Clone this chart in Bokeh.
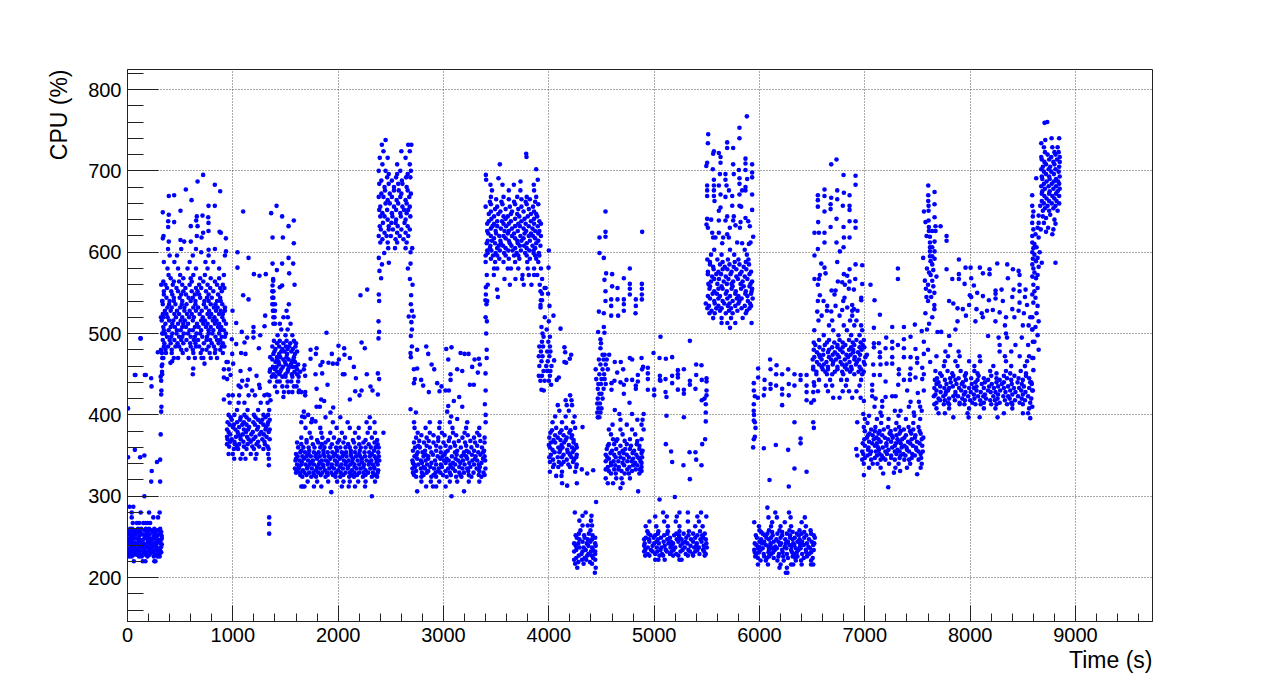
from bokeh.plotting import figure
from bokeh.models import FixedTicker, Range1d, Title
from bokeh.embed import file_html
from bokeh.resources import INLINE

A_y=[220,226,231,236,241,246,251,256,260,267,274,280,287]
A_x=[[60,145,170,255,265],[15,40,110,135,190,250,285,305],[5,30,75,100,155,180,235,295,320],[20,70,95,150,200,225,285,310],[5,50,80,130,160,215,245,275,325],[10,35,115,140,200,230,290,315],[30,55,110,165,195,250,280,325],[15,65,95,125,185,240,265,320],[25,45,100,130,175,205,255,310],[50,90,110,150,170,190,215],[40,245,290],[40,125,205,305],[20,55]]
A2_y=[228,233,238,243,248,253,258]
A2_x=[[25,60,90,125,170,210,265,300],[10,45,85,120,165,210,255,280,310],[35,60,110,135,180,215,250,270,320],[15,40,65,100,145,190,225,265,305],[20,55,80,95,160,185,220,260,275,325],[5,40,75,125,150,180,210,265,300],[35,55,80,110,165,200,225,285,300]]
A_pts=[(160,300),(225,318),(310,318),(230,331),(280,342),(310,345),(5,348),(120,348),(160,350),(70,357),(315,376),(5,408),(320,404),(322,410),(320,425),(322,430),(225,445),(315,447),(325,460),(75,449),(165,449),(125,494),(330,470),(318,480),(335,500),(318,520),(330,540),(320,560)]

B_y=[470,476,484,492,500,508,516,524,532,540,548,556,564,572,580,588,596,604]
B_x=[[340,440,480,580,640,720,790,850],[365,420,525,625,695,780,830,905],[345,385,455,490,600,650,680,770,820,895,920],[335,400,445,510,560,630,670,750,785,850,880],[330,355,425,465,535,575,655,690,770,805,870,935],[340,410,450,520,555,640,675,745,790,860,890],[325,395,435,505,545,620,700,735,810,845,915],[335,370,445,490,565,610,685,760,795,870,905],[380,420,500,540,625,670,745,820,855,925],[330,400,440,520,600,645,730,770,850,885],[345,425,510,555,640,680,770,860],[375,465,550,650,700,785,880,920],[340,440,490,610,720,830],[390,500,625,735,915],[380,480,570,650,760,870],[345,445,590,740,815],[400,470,620,770,925],[385,510,650,830]]
B2_y=[480,488,496,504,512,520,528,536,544,552,560,568]
B2_x=[[360,420,510,560,620,710,750,835,880],[350,410,475,530,595,645,725,800,865,905],[375,415,490,520,600,640,710,755,835,895,925],[345,390,470,505,590,620,700,770,815,880,915],[360,425,480,530,575,660,720,760,830,870,935],[340,380,460,520,585,630,715,780,825,900],[355,410,470,540,590,650,705,775,840,885,925],[335,395,455,515,560,645,725,790,835,900],[370,440,495,580,620,690,755,800,880],[345,415,480,530,610,665,745,815,895],[360,430,520,590,680,760,850,905],[410,530,600,690,790,870]]
B_pts=[(718,695),(665,687),(829,683),(880,675),(554,677),(443,670),(392,669),(608,664),(769,657),(829,657),(335,649),(503,651),(392,646),(658,644),(712,645),(766,643),(386,638),(443,637),(652,639),(769,636),(386,631),(601,632),(665,632),(718,624),(769,626),(874,625),(886,624),(342,620),(503,615),(538,613),(601,613),(658,620),(703,618),(934,617),(392,613),(335,617),(700,600),(770,603),(935,601),(330,462),(424,466),(408,464),(703,470),(731,463),(952,465),(624,457),(620,450),(329,450),(328,453),(320,442),(228,435),(70,449),(174,449),(123,494),(288,477),(326,476)]

C_y=[338,346,352,358,364,370,376,382,388,394,400,406,415,424]
C_x=[[1342],[1013,1073,1120,1215,1342],[960,1000,1090,1170,1225,1335],[1010,1050,1130,1200,1290,1340],[945,1020,1060,1140,1225,1305],[950,990,1075,1150,1195,1280,1350],[975,1055,1095,1175,1255,1295],[945,1025,1105,1145,1230,1310,1350],[970,1010,1090,1130,1210,1290,1330],[990,1070,1155,1240,1280,1350],[960,1015,1110,1200,1290,1335],[1040,1140,1240,1345],[970,1055,1110,1265,1330],[960,1000,1060,1150,1210,1300,1345]]
C2_y=[361,367,373,379,385,391,397]
C2_x=[[965,1040,1105,1185,1250,1330],[975,1015,1100,1170,1240,1300],[945,1030,1070,1135,1215,1320],[960,1045,1125,1190,1270,1340],[1000,1060,1155,1240,1315],[950,1040,1105,1195,1265,1335],[980,1075,1130,1215,1310]]
C_pts=[(1345,274),(1345,266),(1345,254),(1073,454),(1142,443),(1225,448),(1161,456),(1073,434),(1055,436),(1130,436),(1250,437),(1256,433),(1184,430),(1326,425),(1358,418),(915,419),(915,456),(962,456),(915,446),(946,444),(940,465),(1003,463),(994,475),(1079,476),(1120,475),(1089,442),(978,449),(1098,650),(1044,600),(1149,593),(1044,581),(1200,573),(1253,571),(1313,573),(1098,547),(1149,542),(997,528),(1307,522),(1032,513),(1301,509),(1196,508),(1085,502),(1196,502),(1260,498),(1136,495),(1032,487),(1111,489),(1196,495),(1247,482),(990,493)]

D_y=[422,428,435,441,447,453,459,465,471,478,484,491,498,505,512,520,528,536,544,552]
D_x=[[1480],[1420,1485,1530,1565,1625,1650],[1400,1470,1515,1580,1605],[1350,1420,1445,1520,1555,1620],[1370,1405,1470,1500,1565,1625],[1350,1420,1450,1520,1585,1640],[1380,1415,1475,1535,1570,1600],[1405,1435,1495,1560,1590],[1355,1420,1450,1510,1580],[1395,1460,1490,1555,1610],[1375,1440,1505,1535,1595],[1390,1445,1510,1580],[1425,1500,1565],[1460,1520],[1385,1400,1446,1548],[1385,1395,1481,1522],[1380,1385,1510,1400],[1375,1385,1532,1400],[1375,1380,1385],[1375,1380,1385]]
D2_y=[450,456,462,468,475,481,488]
D2_x=[[1385,1440,1500,1560,1610],[1355,1400,1460,1525,1610],[1440,1505,1550,1620],[1375,1420,1480,1530,1575],[1385,1440,1515,1590],[1405,1470,1520,1570],[1420,1480,1545,1600]]
D_pts=[(1415,657),(1364,648),(1468,644),(1579,639),(1529,632),(1377,618),(1475,618),(1579,611),(1377,586),(1468,586),(1529,593),(1573,586),(1418,578),(1535,574),(1383,567),(1383,565),(1586,560),(1468,559),(1446,557),(1377,559)]

E_y=[300,305,312,318,324,329,334,339,344,349,354,360,366,372,378,384,391,397]
E_x=[[2320],[1935],[1650,1665,1680,1770,1840,2035,2100,2160,2255],[1710,1800,1905,1990,2050,2110,2190,2260,2350],[1660,1745,1790,1880,1975,2020,2105,2150,2235,2320,2370],[1600,1680,1725,1810,1850,1935,2025,2070,2155,2200,2285,2375],[1590,1625,1705,1750,1830,1915,1960,2045,2090,2175,2215,2305,2345],[1650,1690,1770,1855,1900,1985,2030,2115,2200,2245,2330,2375],[1595,1635,1715,1760,1845,1885,1970,2055,2100,2185,2270,2315,2390],[1615,1700,1785,1825,1910,1995,2040,2125,2210,2255,2345,2385],[1640,1685,1770,1815,1900,1945,2035,2075,2160,2250,2295,2380],[1620,1720,1775,1870,1980,2020,2110,2165,2260,2355],[1610,1700,1810,1880,1995,2050,2150,2240,2345],[1650,1745,1850,1960,2065,2195,2320],[1730,1840,1925,2035,2160,2280,2350,2430],[1690,1830,1985,2110,2195,2300],[1650,1745,1950,2090,2270,2345],[1680,1880,2020,2300]]
E2_y=[326,329,332,336,339,342,346,349,352,356,360,364,369]
E2_x=[[1640,1700,1770,1835,1900,1950,2050,2130,2180,2260,2350],[1640,1765,1895,1980,2110,2240,2330],[1610,1665,1790,1875,2000,2130,2260,2380],[1630,1710,1800,1860,1940,2015,2095,2155,2240,2340],[1610,1730,1815,1940,2070,2155,2290],[1655,1740,1825,1905,1990,2075,2135,2225,2300,2365],[1600,1675,1800,1925,2015,2140,2225,2360],[1660,1740,1870,1955,2080,2170,2300],[1600,1720,1790,1860,1970,2050,2120,2200,2320],[1650,1725,1860,1990,2120,2205,2340],[1670,1830,1925,2070,2215,2310,2385],[1650,1760,1845,1940,2095,2200,2290,2375],[1700,1800,1905,2010,2140,2260,2370]]
E_pts=[(1889,501),(2003,485),(2057,482),(1795,482),(1738,480),(1788,475),(1940,475),(2060,474),(2111,470),(2222,489),(2253,482),(2276,554),(2212,547),(1738,469),(1851,465),(1908,464),(1950,463),(1991,463),(2007,468),(2149,459),(1832,461),(1680,461),(1674,456),(1687,448),(1785,450),(1848,451),(2045,450),(2060,450),(2168,445),(2272,450),(2377,451),(2389,444),(1899,437),(1795,432),(2307,435),(2326,430),(2162,429),(2222,430),(2203,424),(2377,425),(1687,428),(1687,424),(1630,430),(2111,419),(1839,419),(1867,417),(1795,410),(1826,410),(1953,409),(1927,403),(1674,404),(1715,400),(1658,398),(1753,395),(1785,392),(2386,593),(2416,585),(2392,577),(2408,568),(2386,548),(2389,540),(2383,515),(2389,502),(2383,494),(2481,587),(2437,599)]

F_y=[605,612,620,628,636,644,652,660,668,676,684,692,700,708,716,724,732,738]
F_x=[[2475,2540,2640],[2400,2470,2560,2650],[2385,2460,2500,2585,2665],[2405,2480,2520,2600,2680],[2425,2505,2545,2630],[2400,2440,2515,2595,2685],[2390,2465,2550,2625,2665],[2450,2490,2570,2650],[2385,2430,2510,2590,2675],[2445,2530,2575,2660],[2390,2480,2570,2610],[2465,2550,2645,2685],[2385,2450,2590,2690],[2420,2560,2680],[2395,2470,2640],[2430,2600,2680],[2415,2665,2695],[2450]]
F2_y=[616,624,632,640,648,656,664,672,680,688,696]
F2_x=[[2420,2545,2620],[2440,2560,2640],[2395,2480,2565,2660],[2470,2550,2640],[2420,2510,2590,2650],[2400,2530,2610,2680],[2470,2555,2640],[2410,2490,2600,2690],[2440,2530,2650],[2410,2510,2605],[2480,2560,2660]]
F_pts=[(2703,605),(2687,600),(2687,586),(2662,580),(2681,567),(2706,560),(2693,547),(2690,536),(2700,528),(2670,521),(2716,521),(2695,514),(2700,505),(2690,497),(2700,484),(2687,476),(2690,471),(2750,480),(2836,484),(2855,475),(2887,462),(2912,456),(2750,457),(2719,456),(2788,443),(2728,444),(2719,439),(2807,436),(2861,428),(2940,439),(2981,435),(2962,429),(3019,430),(3051,430),(2687,407),(2738,403)]

G_y=[300,306,312,318,324,329,334,339,344,349,354,360,366,372,378,384,391]
G_x=[[3076],[2750,3195],[2835,2900,2930,3020],[2790,2880,2960,3060,3130,3240,3340],[2740,2790,2885,2930,3030,3120,3170,3265,3360],[2710,2795,2840,2925,2970,3060,3150,3195,3285,3380],[2705,2785,2825,2910,2955,3045,3090,3180,3225,3315,3398],[2720,2760,2845,2930,2975,3065,3110,3200,3290,3335],[2705,2785,2830,2920,3005,3050,3140,3185,3275,3320,3395],[2725,2810,2855,2945,2990,3080,3170,3215,3305,3390],[2755,2800,2885,2975,3020,3110,3195,3240,3330,3375],[2730,2775,2870,2970,3065,3165,3265,3365],[2720,2815,2905,3000,3100,3205,3300,3390],[2740,2840,2950,3060,3180,3290,3390],[2755,2870,2985,3090,3200,3320],[2725,2830,2960,3085,3215,3340],[2720,2870,3060,3225,3400]]
G2_y=[326,331,336,341,346,351,356,362,368,375]
G2_x=[[2720,2810,2905,2995,3070,3160,3240,3335,3390],[2740,2855,2950,3020,3110,3235,3340],[2730,2810,2875,2985,3070,3150,3255,3345],[2710,2795,2885,3020,3090,3160,3245,3360],[2750,2855,2970,3030,3115,3225,3300,3375],[2745,2830,2900,3010,3125,3190,3270,3350],[2710,2825,2930,3040,3130,3220,3290,3385],[2760,2840,2930,3020,3110,3215,3320],[2770,2860,2950,3050,3145,3255,3350],[2790,2905,3010,3120,3230,3340]]
G_pts=[(3026,481),(3076,483),(3045,468),(3162,476),(3200,475),(3238,475),(3295,468),(3336,469),(3345,462),(3272,459),(3326,452),(3399,451),(3178,454),(3130,456),(3067,450),(3067,443),(3250,437),(3288,437),(3149,422),(3098,417),(3045,411),(3035,404),(3178,410),(3393,413),(3073,398),(3130,395),(2965,391),(3400,430),(3410,480),(3405,500),(3412,515),(3400,520),(3415,540),(3410,470),(3400,400),(3420,560)]

H_y=[572,580,588,596,602,608,614,620,626,632,638,644,650,656,662,668,676]
H_x=[[3411,3478,3750,3810,3860,3890],[3480,3510,3610,3640,3710,3800,3860,3925],[3400,3490,3570,3680,3795,3900],[3400,3470,3510,3590,3670,3710,3790,3870,3910],[3415,3455,3535,3615,3655,3735,3815,3855],[3445,3525,3565,3645,3725,3765,3845,3920],[3420,3460,3540,3620,3700,3740,3820,3900],[3450,3530,3570,3650,3730,3810,3850,3925],[3415,3495,3580,3620,3705,3785,3870,3910],[3465,3510,3595,3680,3725,3810,3895],[3430,3510,3555,3640,3740,3830,3910],[3480,3570,3610,3720,3800,3890],[3450,3540,3650,3760,3860],[3400,3510,3630,3740,3850],[3440,3550,3670,3780,3870],[3450,3570,3700,3790,3880],[3460,3620,3730,3860]]
H2_y=[592,599,605,611,617,623,629,635,641,647,653,659,665]
H2_x=[[3450,3530,3620,3720,3820,3880],[3420,3495,3575,3695,3775,3855,3905],[3440,3510,3590,3680,3790,3870],[3410,3490,3545,3630,3705,3790,3880],[3480,3590,3680,3760,3870],[3425,3500,3610,3670,3770,3830,3900],[3450,3545,3650,3760,3845],[3415,3480,3570,3620,3710,3780,3860,3925],[3455,3590,3680,3770,3860],[3430,3520,3640,3700,3830,3880],[3490,3590,3710,3810],[3450,3560,3680,3790,3900],[3500,3620,3740,3820]]
H_pts=[(3785,721),(3788,717),(3535,708),(3880,702),(3402,695),(3405,689),(3522,691),(3895,689),(3446,683),(3560,683),(3668,683),(3731,687),(3857,683),(3579,567),(3683,567),(3747,567),(3936,567),(3630,560),(3762,560),(3835,560),(3914,560),(3402,557),(3509,554),(3516,545),(3402,548),(3398,541),(3408,536),(4000,602),(3997,581),(3921,552),(3935,549),(3993,549),(3925,541),(3935,541),(3921,535),(3960,556),(3970,556),(4006,534),(3921,532),(3962,520),(4044,522),(4000,515),(4111,506),(3930,508),(3940,500),(3980,505)]

I_y=[442,448,454,460,466,472,478,484,490,496]
I_x=[[3920,3960,4000],[3905,3935,4010],[3950,3985,4015],[3910,3975,4025],[3930,3990],[3905,3940,4005],[3925,3985,4015],[3910,3945,4010],[3935,3995],[3950,4010]]
I_pts=[(3952,430),(3930,431),(4022,437),(4095,446),(4075,443),(4050,467),(4148,483),(4155,477),(4212,474),(4199,469),(4148,465),(4164,464)]

J_y=[325,330,336,342,348,354,360,366,372,378,384,391,398,405,412,418,424]
J_x=[[4070,4120],[4010,4125,4250],[4040,4090,4200,4260],[4010,4095,4140,4230],[4005,4085,4125,4215,4260],[4055,4100,4180,4225],[4010,4090,4130,4220,4265],[4020,4060,4145,4235],[4005,4085,4170,4215],[4015,4105,4195],[4070,4165,4250],[4035,4125,4230],[4060,4160,4245],[4100,4190],[4085,4170,4220],[4160,4215],[4202]]
J2_y=[339,345,351,357,363,369,375,381]
J2_x=[[4050,4120,4185,4265],[4040,4170,4240],[4020,4140,4200,4265],[4035,4110,4175,4240],[4000,4120,4190,4260],[4045,4110,4160,4235],[4060,4140,4220],[4030,4120,4205]]
J_pts=[(4126,316),(4174,313),(4266,316),(4313,333),(4364,328),(4421,332),(4320,385)]

K_y=[206,212,217,222,227,232,237,242,247,252,258,264,270,276,280]
K_x=[[4437],[4270,4445],[4250,4330,4410],[4240,4315,4355,4440],[4285,4365,4405],[4240,4320,4400,4440],[4290,4330,4410],[4240,4280,4360,4440],[4290,4370,4410],[4255,4335,4415],[4300,4395],[4320,4370,4410],[4290,4400],[4320,4405],[4247,4350]]
K2_y=[219,224,229,234,239,244,249,254]
K2_x=[[4280,4390],[4260,4340,4420],[4310,4375,4440],[4260,4350,4420],[4255,4375,4445],[4320,4395],[4265,4340,4440],[4285,4380]]
K_pts=[(4449,293)]

L_y=[306,310,316,322,328,333,338,343,348,353,358,364,370,376,382,388,394,401]
L_x=[[4848],[4680],[4560,4610,4700],[4540,4640,4690,4770],[4590,4635,4720,4760,4860],[4540,4620,4660,4745,4825,4865],[4590,4630,4715,4800,4840],[4540,4615,4660,4745,4785,4870],[4555,4635,4680,4760,4845,4885],[4585,4670,4710,4795,4880],[4550,4640,4725,4770,4860],[4570,4620,4740,4835],[4610,4650,4770,4880],[4590,4700,4820],[4570,4680,4790,4900],[4605,4740,4880],[4680,4840,4890],[4670,4790,4900]]
L3_y=[331,336,341,346,351,356,362,368]
L3_x=[[4570,4690,4790,4880],[4560,4665,4765,4880],[4590,4700,4820,4880],[4570,4710,4800,4860],[4540,4620,4740,4830],[4600,4700,4810,4890],[4560,4680,4780,4860],[4640,4720,4840]]
L2_y=[397,403,408,414,420,426,432,438,444,450,456,462,468,474]
L2_x=[[4465,4480],[4460,4490],[4470,4500],[4460,4485],[4465,4510],[4480,4500],[4465,4520],[4470,4495,4540],[4450,4500,4530],[4480,4525],[4445,4510,4560],[4490,4540],[4475,4520,4550],[4510,4530,4573]]
L_pts=[(4538,650),(4538,625),(4538,619),(4481,618),(4886,625),(4481,599),(4522,593),(4769,580),(4544,574),(4601,573),(4712,568),(4528,566),(4601,558),(4652,556),(4769,561),(4769,555),(4769,548),(4883,561),(4883,555),(4883,548),(4883,542),(4538,552),(4538,540),(4592,542),(4652,542),(4712,542),(4712,536),(4826,542),(4826,534),(4592,534),(4712,528),(4823,525),(4475,527),(4522,525),(4592,522),(4658,522),(4522,508),(4468,502),(4528,501),(4490,493),(4495,488),(4490,482),(4626,465),(4683,465),(4706,456),(4649,452),(4623,442),(4595,439),(4680,440),(4737,443),(4791,443),(4845,441),(4826,436),(4712,437),(4595,431),(4712,426),(4769,470),(4791,468),(4880,470),(4895,459),(4885,456),(4940,458),(4940,451),(4940,444),(4845,449),(4826,432),(4940,431),(4994,476),(5000,431),(5000,424),(4766,415),(4626,406),(5060,496),(5339,491),(5051,470),(5111,469),(5171,471),(5282,456),(5399,462),(5449,461),(5225,455),(5225,450),(5171,448),(5054,448),(5054,443),(5108,444),(5225,446),(5171,439),(5339,442),(5339,437),(5399,449),(5452,443),(5497,445),(5497,441),(5060,442),(5225,431),(5282,431),(5392,432),(5282,426),(5108,428),(5117,422),(5497,430),(5497,424),(5478,420),(5452,418),(5490,413),(5490,403),(5490,392),(5117,399),(5282,397),(5484,370),(5456,364),(5111,364),(5161,355),(5336,354),(5392,354),(5171,342),(5278,338),(5399,345),(5449,338),(5339,321),(5051,296),(5196,299)]

M_y=[222,227,232,237,242,247,252,257,263,269,275,280]
M_x=[[5010,5040,5100,5240,5260],[4915,4955,5050,5085,5180,5230,5320,5370,5480],[4905,4985,5030,5120,5165,5250,5340,5390,5475],[4940,5025,5070,5155,5200,5290,5380,5425,5500],[4910,5000,5045,5135,5180,5270,5315,5405,5495],[4905,4950,5035,5125,5215,5260,5350,5440,5490],[4965,5010,5095,5190,5235,5325,5410,5455],[4935,5040,5130,5240,5330,5435],[4920,5020,5130,5240,5390,5460],[4955,5095,5205,5320,5425],[5010,5120,5215,5410,5495],[5085,5240,5320,5445]]
M2_y=[229,234,239,244,249,254]
M2_x=[[4940,5010,5075,5150,5210,5300,5365,5430,5490],[4915,4970,5060,5110,5185,5270,5325,5410,5465],[4905,4985,5100,5165,5250,5345,5400,5470],[4955,5025,5090,5160,5230,5295,5370,5450],[4920,4995,5065,5150,5240,5305,5390,5465],[4945,5035,5125,5210,5280,5370,5480]]
N_y=[507,513,519,525,531,537,543,549,555,561,567,573,579,585,591,597,603]
N_x=[[5720],[5640,5695,5770,5925],[5560,5640,5730,5840],[5525,5575,5680,5745,5870],[5505,5590,5640,5730,5830,5905],[5490,5575,5665,5715,5800,5910],[5530,5610,5695,5785,5830,5935],[5555,5595,5680,5770,5865,5920],[5525,5610,5650,5735,5825,5930],[5515,5600,5690,5735,5820,5915],[5570,5615,5705,5795,5885],[5510,5590,5635,5725,5815,5905],[5565,5650,5695,5780,5875],[5530,5625,5715,5810,5900],[5505,5600,5700,5800,5895],[5540,5640,5760,5880],[5570,5720,5860]]
N2_y=[528,534,540,546,552,558,564,570,576,582,588]
N2_x=[[5545,5625,5710,5790,5880],[5520,5610,5700,5770,5860,5920],[5570,5650,5745,5810,5890],[5510,5625,5720,5800,5885],[5570,5690,5775,5870,5925],[5530,5640,5745,5850,5905],[5540,5660,5750,5840,5930],[5550,5680,5780,5860],[5510,5610,5735,5830,5920],[5560,5670,5755,5850],[5530,5650,5765,5870]]
N_pts=[(5880,767),(5810,753),(5810,740),(5513,745),(5510,734),(5693,735),(5693,728),(5750,728),(5567,724),(5560,721),(5614,722),(5630,717),(5630,710),(5503,710),(5495,706),(5750,708),(5867,715),(5867,709),(5930,708),(5804,701),(5867,701),(5557,702),(5624,696),(5677,696),(5756,696),(5930,698),(5930,692),(5883,690),(5677,689),(5567,689),(5810,691),(5810,684),(5867,680),(5503,682),(5567,682),(5614,682),(5687,682),(5710,676),(5503,676),(5567,676),(5567,669),(5503,669),(5630,671),(5677,668),(5741,669),(5810,671),(5835,676),(5867,676),(5930,671),(5573,663),(5630,655),(5614,651),(5741,657),(5810,657),(5826,656),(5930,652),(5503,641),(5541,640),(5614,639),(5677,639),(5693,644),(5756,644),(5750,639),(5820,637),(5867,642),(5893,638),(5497,634),(5510,630),(5908,632),(5718,630),(5772,633),(5814,630),(5551,624),(5614,624),(5693,622),(5582,618),(5560,618),(5655,618),(5709,618),(5788,612),(5835,611),(5646,611),(5940,619),(5899,610),(5915,612)]

O_y=[206,212,216,221,226,231,236,240,244,249,254,258,263,268,274,280,286]
O_x=[[6250,6265],[6190,6260],[5985,6080,6200,6300,6320,6400,6490,6510],[6010,6060,6170,6230,6345,6395,6490],[5960,6045,6090,6180,6225,6315,6360,6450],[5955,5995,6085,6130,6220,6310,6355,6445,6490],[5985,6030,6120,6165,6255,6345,6390,6480],[5970,6060,6105,6195,6285,6330,6420,6510],[6000,6045,6135,6180,6270,6360,6405,6495],[5975,6065,6110,6200,6290,6335,6425,6525],[6030,6075,6170,6260,6355,6400,6490],[6000,6090,6190,6285,6380,6485],[5995,6110,6200,6300,6440],[5950,6120,6240,6400],[6085,6165,6295,6430],[6150,6280],[6075]]
O2_y=[224,229,234,238,242,247,252,256]
O2_x=[[5985,6070,6135,6270,6340,6420,6505],[5970,6040,6110,6185,6260,6330,6405,6470],[5950,6010,6090,6145,6215,6300,6370,6440,6515],[5995,6085,6150,6240,6305,6385,6465],[5955,6025,6105,6205,6250,6320,6385,6450,6520],[6015,6090,6160,6245,6315,6380,6470],[5965,6050,6125,6215,6290,6375,6445,6515],[6015,6120,6215,6315,6425]]
O_pts=[(6101,468),(6162,461),(5987,457),(6272,456),(6105,456),(5987,446),(6158,450),(6215,450),(6332,450),(6390,449),(6447,449),(6390,443),(6048,443),(6105,438),(6048,432),(6158,436),(6215,432),(6278,438),(6332,436),(6447,436),(6516,440),(6510,428),(6447,428),(6105,432),(6215,425),(6278,424),(6041,424),(5984,421),(5946,439),(5946,430),(5956,423),(5946,413),(5945,405),(5948,400),(5946,393),(6215,412),(6332,391),(6510,391),(6447,418),(6516,418),(6491,415),(5956,391),(5962,384),(6516,384),(6390,371),(6390,365),(5956,373),(5946,370),(5940,360),(6041,359),(6155,363),(6272,357),(6332,334),(6447,330),(6095,320),(6278,312)]

P_y=[421,429,436,443,450,456,462,468,474,480,486,492,498,504,510,516,522,528]
P_x=[[6700,6760,6880,6960],[6555,6650,6790,6850,6920],[6520,6630,6690,6820,6950],[6565,6670,6775,6830,6965],[6540,6640,6690,6795,6900,6975],[6510,6600,6650,6740,6830,6875,6965],[6565,6610,6695,6785,6825,6915,7000],[6505,6590,6680,6725,6810,6900,6945],[6565,6605,6695,6740,6825,6865,6955,7020],[6515,6605,6660,6765,6850,6890,6970],[6530,6620,6740,6815,6900,6980],[6565,6660,6760,6850,6920,6990],[6610,6750,6870,6950],[6520,6700,6830,6975],[6660,6800,6900,6965],[6560,6690,6860,6920],[6590,6760,6880],[6640,6880,6930]]
P2_y=[453,459,465,471,477,483,489]
P2_x=[[6540,6625,6715,6785,6860,6940,6990],[6510,6590,6650,6740,6810,6870,6950],[6545,6635,6700,6770,6855,6925,6990],[6520,6575,6660,6755,6840,6905,7005],[6545,6650,6715,6790,6890,6935],[6570,6690,6740,6790,6870,6950,6995],[6515,6640,6710,6790,6885,6960]]
P_pts=[(6731,714),(6681,708),(6798,695),(6912,694),(6912,683),(6617,677),(6738,676),(6801,673),(6855,670),(6554,670),(6617,669),(6681,667),(6738,665),(6554,664),(6675,659),(6554,656),(6675,653),(6791,657),(6855,657),(6855,652),(6617,650),(6731,641),(6557,637),(6855,638),(6912,638),(6912,630),(6798,631),(6675,631),(6617,624),(6522,624),(6564,624),(6801,618),(6855,618),(6617,612),(6731,612),(6798,606),(6554,604),(6763,601),(6522,596),(6738,588),(6586,586),(6912,585),(6975,584),(6617,581),(6627,574),(6855,579),(6801,573),(6833,571),(6573,572),(6522,567),(6564,567),(6909,567),(6744,564),(6785,563),(6855,564),(6811,560),(6554,560),(6975,561),(6848,555),(6896,554),(6684,553),(6722,553),(6712,548),(6573,547),(6807,544),(6966,544),(6795,540),(6966,541),(6554,540),(6608,540),(6722,534),(6643,534),(6880,535),(6896,530),(6833,532),(6785,529),(6548,527),(6681,527)]

Q_y=[335,340,345,350,355,360,365,370,375,380,385,390,395,399]
Q_x=[[7040,7150,7290,7400,7530],[6990,7075,7120,7230,7320,7430,7540],[6975,7060,7150,7195,7285,7375,7420,7510],[7025,7115,7160,7250,7340,7385,7475],[6975,7060,7105,7195,7285,7330,7420,7510,7550],[7035,7125,7170,7260,7350,7395,7485],[6980,7070,7115,7205,7295,7340,7430,7520],[6995,7085,7130,7220,7310,7355,7445,7540],[7030,7075,7165,7255,7300,7390,7480],[7000,7095,7140,7245,7340,7430,7520],[6990,7100,7220,7325,7415,7510],[7025,7155,7300,7460],[7000,7115,7225,7390,7525],[7040,7160,7320,7470]]
Q2_y=[347,352,357,362,367,372,377,382]
Q2_x=[[7000,7095,7175,7250,7330,7445,7535],[6985,7050,7140,7210,7300,7365,7450,7530],[7030,7135,7225,7310,7400,7490],[7000,7095,7205,7285,7375,7455,7545],[7040,7150,7250,7325,7410,7495],[7020,7110,7190,7265,7375,7475,7555],[7045,7130,7235,7330,7440,7530],[7060,7180,7290,7370,7460]]
Q_pts=[(7174,328),(7222,311),(6991,326),(7276,329),(7335,331),(7497,327),(6928,391),(6918,358),(6928,350),(7054,560),(7314,580),(7314,567),(7092,541),(7143,523),(7086,507),(7260,508),(7371,508),(7475,511),(7540,503),(7434,496),(7371,493),(7203,495),(7260,490),(7314,486),(7086,488),(7133,488),(7197,482),(7260,482),(7371,482),(7481,481),(7086,483),(7143,477),(7143,471),(7260,471),(7371,471),(7434,471),(7497,470),(7560,475),(7079,462),(7149,462),(7206,463),(7260,463),(7323,456),(7434,457),(7497,464),(7545,458),(7086,449),(7143,449),(7323,450),(7428,450),(7481,446),(7545,444),(7197,441),(7317,437),(7371,443),(7428,443),(7070,437),(7070,430),(7402,430),(7503,427),(7560,430),(7070,423),(7102,420),(7165,417),(7260,423),(7292,423),(7197,422),(7513,416),(7434,416),(7418,410),(6991,417),(6985,401),(7092,410),(7165,410),(7149,403),(7339,405),(7285,405),(7465,403),(7525,410),(7540,405)]

R_y=[397,402,408,413,418,423,428,433,438,443,448,454,460,466,472,478,486,495]
R_x=[[7840,7985,8090,8260],[7700,7760,7975,8320,8500,8550],[7680,7800,7990,8130,8240,8400,8560],[7660,7750,7800,7900,7945,8050,8100,8200,8250,8350,8400,8500],[7715,7760,7855,7950,8000,8095,8190,8235,8330,8425,8520],[7655,7745,7840,7885,7980,8075,8125,8220,8315,8360,8455,8550],[7720,7770,7860,7955,8005,8100,8195,8240,8335,8430,8525],[7660,7755,7800,7895,7990,8035,8130,8225,8320,8415,8465,8560],[7680,7775,7870,7920,8015,8110,8205,8300,8395,8490,8585],[7665,7760,7860,7960,8070,8170,8280,8390,8500],[7730,7840,7950,8080,8200,8320,8420,8530],[7670,7785,7910,8040,8190,8340,8480],[7750,7880,8040,8220,8390,8520],[7760,7860,7990,8095,8340,8540],[7680,7790,7900,8090,8330,8470,8560],[7765,7890,8280,8390],[7810,8280,8430,8550],[8270,8350,8490]]
R2_y=[415,420,425,430,435,440,445,451]
R2_x=[[7680,7790,7900,8020,8130,8280,8390,8470,8570],[7700,7800,7925,8040,8150,8260,8375,8490,8580],[7670,7765,7860,7940,8035,8140,8265,8400,8500],[7680,7790,7915,8060,8170,8285,8380,8485,8590],[7715,7835,7945,8060,8180,8265,8360,8510],[7700,7815,7930,8050,8140,8250,8320,8450,8570],[7685,7810,7890,8010,8130,8250,8350,8460,8560],[7715,7830,7960,8070,8250,8380,8530]]
R_pts=[(7602,682),(7662,674),(7602,670),(7602,663),(7662,659),(7605,657),(7561,650),(7605,651),(7662,643),(7576,637),(7605,639),(7608,631),(7671,632),(7719,632),(7608,626),(7640,626),(7671,626),(7586,620),(7618,619),(7776,620),(7776,614),(7662,613),(7618,612),(7618,606),(7640,606),(7618,601),(7662,601),(7618,595),(7640,595),(7662,592),(7624,589),(7640,585),(7554,593),(7893,591),(7776,579),(7956,581),(8004,581),(8092,581),(8184,579),(8257,586),(8352,585),(8406,579),(8460,577),(8469,572),(8121,574),(8184,573),(7893,573),(7830,567),(7893,567),(8010,568),(8358,568),(7947,561),(8035,559),(8469,560),(8412,554),(8298,554),(8241,553),(8241,549),(8469,552),(8526,554),(8067,550),(7997,547),(8010,545),(8121,546),(8178,541),(8241,543),(8310,540),(8400,545),(8469,538),(8520,545),(8540,535),(7800,540),(7840,537),(7880,531),(7930,530),(7990,535),(8060,530),(8110,525),(8160,528),(8215,529),(8280,526),(8340,520),(8400,530),(8460,528),(8510,525),(8570,520),(7880,515),(7960,522),(8050,515),(8120,520),(8240,515),(8330,510),(8420,520),(8500,510),(8555,510),(8590,505),(7600,560),(7640,565),(7680,570),(7610,575),(7585,545),(7660,550),(7570,565),(7630,545),(7600,540),(7660,535),(7575,525),(7640,520),(7610,512),(7660,530),(7590,505),(7560,490),(7600,480),(7560,450),(7620,465),(7690,502),(7725,502),(7800,497),(7860,505),(8170,497),(8340,500),(7580,555),(7615,552),(7650,558),(7590,580),(7625,572),(7650,578)]

S_y=[651,657,663,669,675,681,687,693,699,705,711,717,723,729]
S_x=[[8690,8750,8830],[8665,8735,8810],[8680,8750,8820],[8705,8780,8845],[8685,8755,8830],[8675,8745,8815],[8725,8795,8835],[8680,8750,8850],[8700,8770,8840],[8690,8760,8845],[8705,8790,8850],[8675,8770,8850],[8710,8800,8840],[8700,8780,8830]]
S2_y=[654,660,666,672,678,684,690,696,702,708,714,720]
S2_x=[[8710,8790],[8700,8775,8845],[8725,8800],[8680,8750,8815],[8710,8790,8850],[8700,8775,8845],[8685,8755,8815],[8720,8795],[8675,8745,8810],[8720,8800],[8680,8750,8825],[8735,8810]]
S_pts=[(8732,760),(8706,759),(8845,740),(8773,740),(8713,738),(8675,734),(8627,691),(8589,670),(8589,657),(8595,644),(8589,636),(8650,636),(8600,650),(8720,642),(8760,646),(8800,640),(8650,645),(8690,644),(8640,630),(8670,628),(8700,636),(8740,630),(8790,628),(8810,635),(8600,628),(8620,622),(8590,620),(8780,622),(8720,625),(8650,618),(8590,612),(8610,610),(8630,606),(8600,605),(8660,600),(8590,600),(8610,597),(8640,593),(8595,592),(8625,589),(8680,587),(8810,587),(8590,585),(8650,582),(8600,580),(8610,575),(8640,572),(8590,570),(8625,568),(8600,560),(8640,556),(8610,552),(8590,548),(8620,544),(8600,538),(8640,534),(8630,525),(8590,520),(8650,515),(8620,508),(8590,505),(8640,498),(8610,490),(8650,480),(8600,470)]

T_y=[396,410,430,440,455,470,490]
T_x=[[8570],[8590],[8595],[8580],[8600],[8590],[8595]]

x_ticks=[0,1000,2000,3000,4000,5000,6000,7000,8000,9000]
y_ticks=[200,300,400,500,600,700,800]
x_minor=list(range(0,9800,200))
y_minor=list(range(160,840,20))

def flatten(ys,xs):
    ox,oy=[],[]
    for yy,row in zip(ys,xs):
        for xx in row:
            ox.append(xx); oy.append(yy)
    return ox,oy

all_x,all_y=[],[]
for ys,xs in [(A_y,A_x),(A2_y,A2_x),(B_y,B_x),(B2_y,B2_x),(C_y,C_x),(C2_y,C2_x),(D_y,D_x),(D2_y,D2_x),(E_y,E_x),(E2_y,E2_x),(F_y,F_x),(F2_y,F2_x),(G_y,G_x),(G2_y,G2_x),(H_y,H_x),(H2_y,H2_x),(I_y,I_x),(J_y,J_x),(J2_y,J2_x),(K_y,K_x),(K2_y,K2_x),(L_y,L_x),(L2_y,L2_x),(L3_y,L3_x),(M_y,M_x),(M2_y,M2_x),(N_y,N_x),(N2_y,N2_x),(O_y,O_x),(O2_y,O2_x),(P_y,P_x),(P2_y,P2_x),(Q_y,Q_x),(Q2_y,Q2_x),(R_y,R_x),(R2_y,R2_x),(S_y,S_x),(S2_y,S2_x),(T_y,T_x)]:
    a,b=flatten(ys,xs); all_x+=a; all_y+=b
for pts in [A_pts,B_pts,C_pts,D_pts,E_pts,F_pts,G_pts,H_pts,I_pts,J_pts,K_pts,L_pts,N_pts,O_pts,P_pts,Q_pts,R_pts,S_pts]:
    all_x+=[q[0] for q in pts]; all_y+=[q[1] for q in pts]

p=figure(width=1272,height=683,output_backend="svg",toolbar_location=None,
         x_range=Range1d(0,9731),y_range=Range1d(146,824.6),
         min_border_left=127,min_border_right=120,min_border_top=69,min_border_bottom=62)
p.background_fill_color="white"
p.outline_line_color="#222222"
p.outline_line_width=1
p.outline_line_alpha=1
p.scatter(all_x,all_y,size=4.6,color="#0000ff",line_color=None)

for ax,tk,mn in [(p.xaxis[0],x_ticks,x_minor),(p.yaxis[0],y_ticks,y_minor)]:
    ax.ticker=FixedTicker(ticks=tk,minor_ticks=mn)
    ax.major_label_text_font="Liberation Sans"
    ax.major_label_text_font_size="20px"
    ax.major_label_text_color="black"
    ax.major_label_standoff=6
    ax.major_tick_out=0
    ax.minor_tick_out=0
    ax.axis_line_color="#222222"
    ax.major_tick_line_color="#222222"
    ax.minor_tick_line_color="#222222"
p.xaxis[0].major_tick_in=16
p.xaxis[0].minor_tick_in=8
p.yaxis[0].major_tick_in=31
p.yaxis[0].minor_tick_in=16

p.add_layout(Title(text="Time (s)",align="right",text_font="Liberation Sans",text_font_size="23px",
                   text_font_style="normal",text_color="black",standoff=1,offset=0),"below")
p.add_layout(Title(text="CPU (%)",align="right",text_font="Liberation Sans",text_font_size="23px",
                   text_font_style="normal",text_color="black",standoff=28,offset=0),"left")

for g in (p.xgrid[0],p.ygrid[0]):
    g.grid_line_color="#555555"
    g.grid_line_dash="1 2"
    g.grid_line_width=1

open("out.html","w").write(file_html(p,INLINE))
